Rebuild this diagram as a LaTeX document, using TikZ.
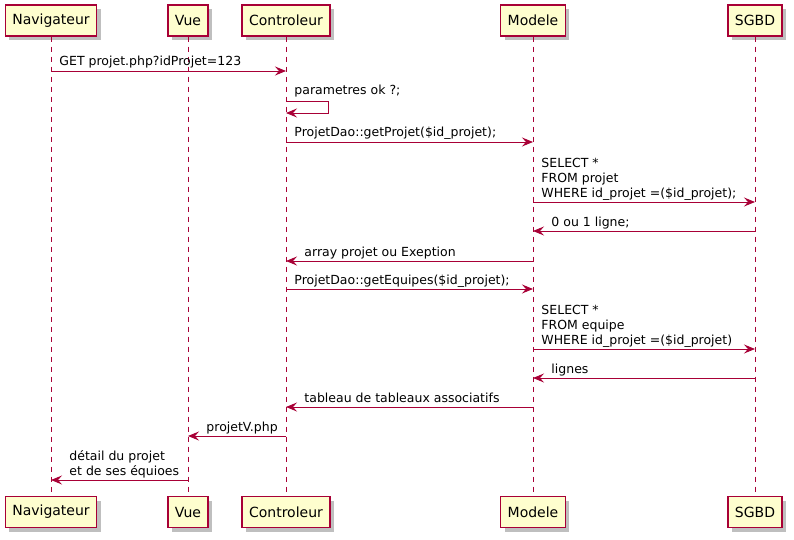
\documentclass[tikz,border=0pt]{standalone}
\usepackage{fontspec}
\setmainfont{DejaVu Sans}
\usetikzlibrary{arrows.meta}
\usetikzlibrary{positioning}
\usetikzlibrary{shadows}
\definecolor{umlred}{HTML}{A80036}
\definecolor{umlfill}{HTML}{FEFECE}

\begin{document}
\begin{tikzpicture}
    [x=1pt, y=-1pt,
     part/.style={rectangle, draw=umlred, fill=umlfill, line width=1.2pt, minimum height=31pt, inner xsep=7pt,
                  font=\fontsize{14}{16}\selectfont,
                  drop shadow={shadow xshift=4pt, shadow yshift=-4pt, opacity=0.25, fill=black}},
     life/.style={draw=umlred, line width=0.8pt, dash pattern=on 5pt off 5pt},
     msg/.style={draw=umlred, line width=0.9pt, -{Stealth[length=11pt, width=9pt, inset=4pt]}},
     lbl/.style={anchor=base west, inner sep=0pt, align=left, font=\fontsize{12.5}{15}\selectfont}]

    \useasboundingbox (0,0) rectangle (794,540);

    % participants, top and bottom
    \node [part] (nav) at (51,20.5) {Navigateur};
    \node [part] (vue) at (188,20.5) {Vue};
    \node [part] (ctl) at (286,20.5) {Controleur};
    \node [part] (mod) at (533,20.5) {Modele};
    \node [part] (bdd) at (755,20.5) {SGBD};
    \node [part] (navb) at (51,512) {Navigateur};
    \node [part] (vueb) at (188,512) {Vue};
    \node [part] (ctlb) at (286,512) {Controleur};
    \node [part] (modb) at (533,512) {Modele};
    \node [part] (bddb) at (755,512) {SGBD};

    % lifelines
    \draw [life] (nav.south) -- (navb.north);
    \draw [life] (vue.south) -- (vueb.north);
    \draw [life] (ctl.south) -- (ctlb.north);
    \draw [life] (mod.south) -- (modb.north);
    \draw [life] (bdd.south) -- (bddb.north);

    % messages
    \draw [msg] (nav |- 0,71) -- node [lbl, pos=0, xshift=8pt, yshift=5pt] {GET projet.php?idProjet=123} (ctl |- 0,71);
    \draw [msg] (ctl |- 0,101) -- node [lbl, pos=0, xshift=8pt, yshift=6pt] {parametres ok ?;} ++(42,0) -- ++(0,12) -- (ctl |- 0,113);
    \draw [msg] (ctl |- 0,142) -- node [lbl, pos=0, xshift=8pt, yshift=5pt] {ProjetDao::getProjet(\$id\_projet);} (mod |- 0,142);
    \draw [msg] (mod |- 0,202) -- node [lbl, pos=0, xshift=8pt, yshift=5pt] {SELECT *\\FROM projet\\WHERE id\_projet =(\$id\_projet);} (bdd |- 0,202);
    \draw [msg] (bdd |- 0,231) -- node [lbl, pos=1, xshift=18pt, yshift=5pt] {0 ou 1 ligne;} (mod |- 0,231);
    \draw [msg] (mod |- 0,261) -- node [lbl, pos=1, xshift=18pt, yshift=5pt] {array projet ou Exeption} (ctl |- 0,261);
    \draw [msg] (ctl |- 0,289) -- node [lbl, pos=0, xshift=8pt, yshift=5pt] {ProjetDao::getEquipes(\$id\_projet);} (mod |- 0,289);
    \draw [msg] (mod |- 0,349) -- node [lbl, pos=0, xshift=8pt, yshift=5pt] {SELECT *\\FROM equipe\\WHERE id\_projet =(\$id\_projet)} (bdd |- 0,349);
    \draw [msg] (bdd |- 0,378) -- node [lbl, pos=1, xshift=18pt, yshift=5pt] {lignes} (mod |- 0,378);
    \draw [msg] (mod |- 0,407) -- node [lbl, pos=1, xshift=18pt, yshift=5pt] {tableau de tableaux associatifs} (ctl |- 0,407);
    \draw [msg] (ctl |- 0,436) -- node [lbl, pos=1, xshift=18pt, yshift=5pt] {projetV.php} (vue |- 0,436);
    \draw [msg] (vue |- 0,480) -- node [lbl, pos=1, xshift=18pt, yshift=5pt] {détail du projet\\et de ses équioes} (nav |- 0,480);
\end{tikzpicture}
\end{document}
